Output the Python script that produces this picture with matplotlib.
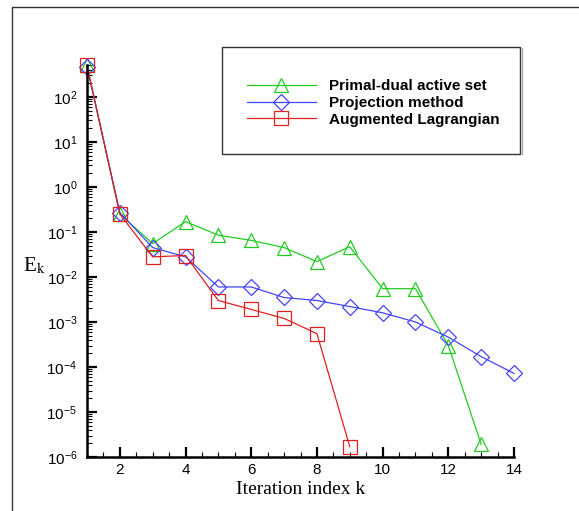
import matplotlib
matplotlib.use("Agg")
import matplotlib.pyplot as plt
from matplotlib.lines import Line2D
from matplotlib.patches import Rectangle
from matplotlib.ticker import LogLocator, MultipleLocator, NullFormatter

# data
iters_pd = [1, 2, 3, 4, 5, 6, 7, 8, 9, 10, 11, 12, 13]
err_pd = [500, 0.25, 0.055, 0.17, 0.085, 0.065, 0.045, 0.022, 0.047,
          0.0055, 0.0055, 0.0003, 1.9e-6]

iters_proj = [1, 2, 3, 4, 5, 6, 7, 8, 9, 10, 11, 12, 13, 14]
err_proj = [470, 0.27, 0.045, 0.028, 0.006, 0.006, 0.0035, 0.003, 0.0022,
            0.0016, 0.001, 0.00046, 0.00017, 7.2e-5]

iters_al = [1, 2, 3, 4, 5, 6, 7, 8, 9]
err_al = [500, 0.25, 0.028, 0.03, 0.003, 0.0019, 0.0012, 0.00055, 1.7e-6]

labels = ["Primal-dual active set", "Projection method", "Augmented Lagrangian"]

plt.rcParams['font.family'] = ['Liberation Sans', 'DejaVu Sans']
plt.rcParams['mathtext.fontset'] = 'custom'
plt.rcParams['mathtext.rm'] = 'Liberation Sans'
plt.rcParams['axes.unicode_minus'] = False

W, H = 579, 511
fig = plt.figure(figsize=(W / 100, H / 100), dpi=100)
ax = fig.add_axes([87 / W, 1 - 457 / H, (514 - 87) / W, (457 - 65.5) / H])

mk = dict(markersize=10, markerfacecolor='none', markeredgewidth=0.9,
          linewidth=0.9, clip_on=False)
ax.plot(iters_pd, err_pd, '-^', color='#22cc22', label=labels[0], **mk)
ax.plot(iters_proj, err_proj, '-D', color='#4444ff', label=labels[1],
        **{**mk, 'markersize': 8.5})
ax.plot(iters_al, err_al, '-s', color='#e02020', label=labels[2], **mk)

ax.set_yscale('log')
ax.set_xlim(1, 14)
ax.set_ylim(1e-6, 5e2)

for s in ['top', 'right']:
    ax.spines[s].set_visible(False)
for s in ['left', 'bottom']:
    ax.spines[s].set_linewidth(1.8)

ax.xaxis.set_major_locator(MultipleLocator(2))
ax.xaxis.set_minor_locator(MultipleLocator(0.5))
ax.yaxis.set_major_locator(LogLocator(base=10, numticks=20))
ax.yaxis.set_minor_locator(LogLocator(base=10, subs=range(2, 10), numticks=20))
ax.yaxis.set_minor_formatter(NullFormatter())

ax.tick_params(which='major', direction='in', length=7, width=1.6, labelsize=11)
ax.tick_params(which='minor', direction='in', length=3.5, width=0.8)
ax.tick_params(axis='y', which='major', pad=7)
ax.tick_params(axis='x', which='major', pad=4)

fig.text(301 / W, 1 - 489 / H, "Iteration index k", family='Liberation Serif',
         fontsize=14, ha='center', va='center')
fig.text(34 / W, 1 - 266 / H, r"E$_{\mathrm{k}}$", family='Liberation Serif',
         fontsize=15, ha='center', va='center', math_fontfamily='stix')

# legend box
fig.add_artist(Rectangle((222 / W, 1 - 154 / H), (520 - 222) / W, (154 - 47) / H,
                         transform=fig.transFigure, fill=False,
                         edgecolor='#333333', linewidth=1))
fig.add_artist(Line2D([521.5 / W, 521.5 / W], [1 - 154 / H, 1 - 48 / H],
                      transform=fig.transFigure, color='#aaaaaa', linewidth=1))
fig.legend(loc='center left', bbox_to_anchor=(247 / W, 1 - 103 / H),
           frameon=False, borderpad=0, borderaxespad=0, handlelength=4.5,
           handletextpad=0.85, labelspacing=0.18,
           prop={'weight': 'bold', 'size': 11})

# outer frame (left and top edges are the only ones inside the picture)
fig.add_artist(Line2D([12 / W, 12 / W, 1], [0, 1 - 7 / H, 1 - 7 / H],
                      transform=fig.transFigure, color='#333333', linewidth=1))

fig.savefig("out.png", dpi=100)
